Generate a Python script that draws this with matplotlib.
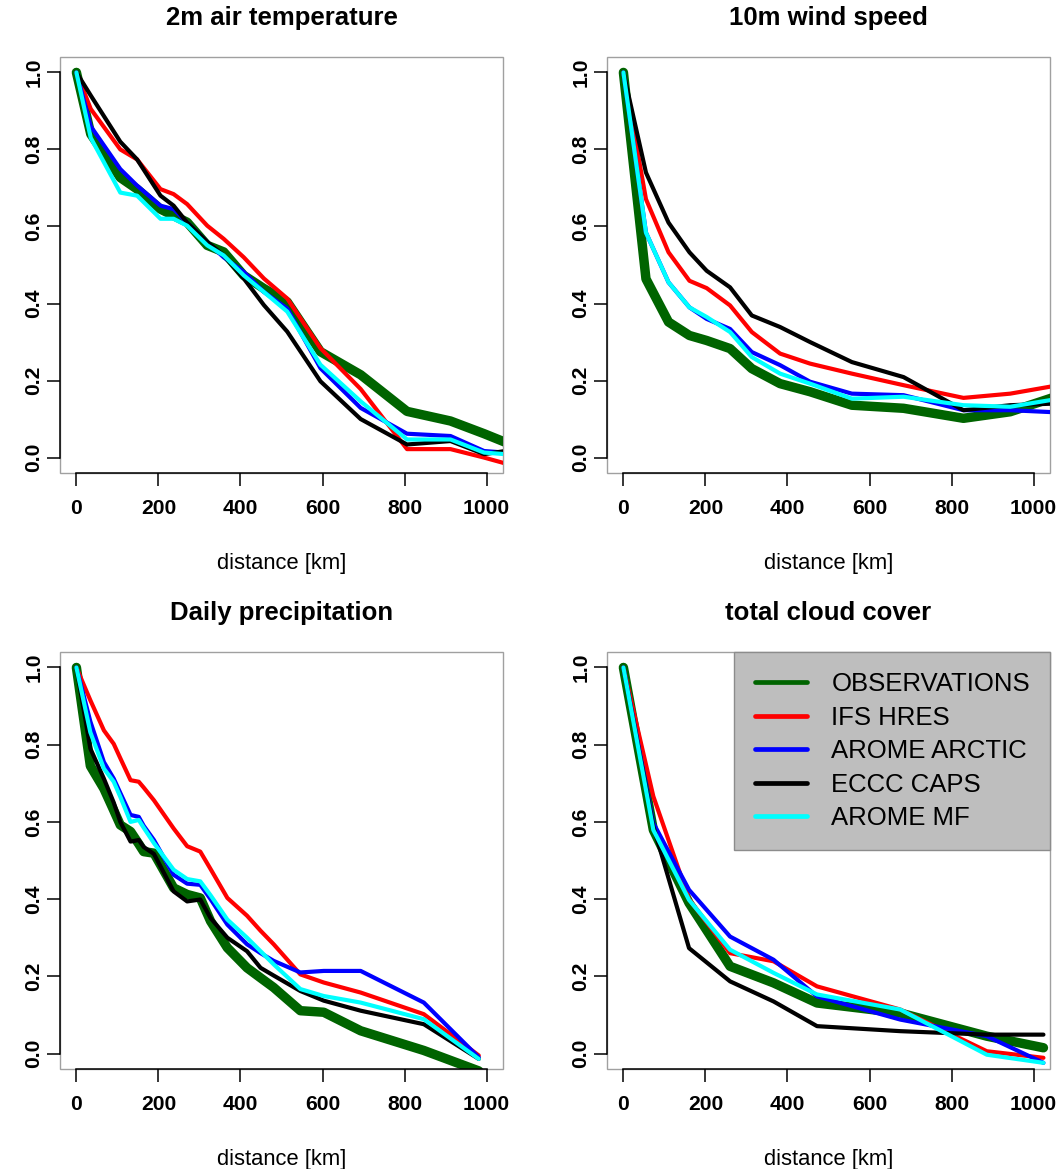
import matplotlib
matplotlib.use("Agg")
import matplotlib.pyplot as plt
from matplotlib.patches import Rectangle

plt.rcParams['font.family'] = ['Liberation Sans', 'DejaVu Sans']

# ---------------- data ----------------
models = ["OBSERVATIONS", "IFS HRES", "AROME ARCTIC", "ECCC CAPS", "AROME MF"]
colors = ["#006400", "#ff0000", "#0000ff", "#000000", "#00ffff"]

titles = ["2m air temperature", "10m wind speed", "Daily precipitation", "total cloud cover"]

# 2m air temperature
t2m_dist = [0, 35, 107, 148, 205, 237, 270, 319, 359, 408, 457, 514, 595, 693, 806, 912, 994, 1045]
t2m_obs  = [1.0, 0.84, 0.727, 0.697, 0.645, 0.628, 0.611, 0.551, 0.534, 0.473, 0.439, 0.404, 0.275, 0.215, 0.12, 0.095, 0.062, 0.04]
t2m_ifs  = [1.0, 0.905, 0.80, 0.774, 0.697, 0.684, 0.658, 0.602, 0.568, 0.52, 0.465, 0.413, 0.284, 0.178, 0.022, 0.022, 0.0, -0.015]
t2m_aa   = [1.0, 0.86, 0.749, 0.706, 0.654, 0.645, 0.61, 0.559, 0.52, 0.482, 0.43, 0.387, 0.232, 0.129, 0.062, 0.056, 0.017, 0.013]
t2m_eccc = [1.0, 0.94, 0.82, 0.774, 0.68, 0.654, 0.61, 0.56, 0.525, 0.465, 0.396, 0.327, 0.198, 0.10, 0.034, 0.043, 0.009, 0.017]
t2m_amf  = [1.0, 0.83, 0.688, 0.68, 0.62, 0.62, 0.602, 0.551, 0.525, 0.473, 0.43, 0.379, 0.241, 0.146, 0.047, 0.047, 0.013, 0.009]

# 10m wind speed
ws_dist = [0, 55, 110, 161, 203, 260, 313, 382, 455, 557, 683, 829, 943, 1045]
ws_obs  = [1.0, 0.464, 0.352, 0.317, 0.304, 0.283, 0.231, 0.192, 0.171, 0.136, 0.128, 0.102, 0.119, 0.155]
ws_ifs  = [1.0, 0.671, 0.533, 0.459, 0.44, 0.395, 0.326, 0.27, 0.244, 0.218, 0.188, 0.155, 0.166, 0.185]
ws_aa   = [1.0, 0.584, 0.455, 0.39, 0.36, 0.334, 0.274, 0.24, 0.197, 0.166, 0.162, 0.123, 0.123, 0.118]
ws_eccc = [1.0, 0.74, 0.61, 0.533, 0.485, 0.442, 0.369, 0.339, 0.30, 0.248, 0.209, 0.123, 0.136, 0.14]
ws_amf  = [1.0, 0.584, 0.455, 0.39, 0.365, 0.326, 0.261, 0.218, 0.192, 0.153, 0.158, 0.136, 0.132, 0.15]

# Daily precipitation
pr_dist = [0, 34, 67, 91, 107, 132, 152, 164, 189, 237, 270, 302, 327, 368, 416, 449, 481, 546, 603, 693, 847, 981]
pr_obs  = [1.0, 0.745, 0.686, 0.63, 0.592, 0.575, 0.543, 0.523, 0.519, 0.429, 0.412, 0.403, 0.343, 0.274, 0.222, 0.196, 0.171, 0.111, 0.107, 0.059, 0.008, -0.045]
pr_ifs  = [1.0, 0.915, 0.837, 0.802, 0.765, 0.708, 0.704, 0.689, 0.656, 0.583, 0.537, 0.523, 0.478, 0.403, 0.357, 0.318, 0.283, 0.205, 0.184, 0.158, 0.102, -0.005]
pr_aa   = [1.0, 0.86, 0.755, 0.712, 0.675, 0.618, 0.613, 0.59, 0.553, 0.463, 0.44, 0.437, 0.40, 0.334, 0.283, 0.26, 0.24, 0.21, 0.214, 0.214, 0.132, -0.01]
pr_eccc = [1.0, 0.79, 0.712, 0.65, 0.60, 0.549, 0.553, 0.535, 0.517, 0.42, 0.394, 0.399, 0.351, 0.30, 0.265, 0.222, 0.202, 0.162, 0.137, 0.111, 0.076, -0.014]
pr_amf  = [1.0, 0.832, 0.738, 0.704, 0.665, 0.60, 0.605, 0.585, 0.545, 0.476, 0.452, 0.446, 0.41, 0.347, 0.30, 0.265, 0.231, 0.167, 0.149, 0.132, 0.089, -0.014]

# total cloud cover
tcc_dist = [0, 73, 160, 260, 366, 472, 675, 886, 1024]
tcc_obs  = [1.0, 0.579, 0.39, 0.226, 0.183, 0.131, 0.105, 0.045, 0.015]
tcc_ifs  = [1.0, 0.666, 0.40, 0.26, 0.239, 0.174, 0.114, 0.006, -0.011]
tcc_aa   = [1.0, 0.597, 0.424, 0.303, 0.243, 0.148, 0.088, 0.045, -0.024]
tcc_eccc = [1.0, 0.588, 0.273, 0.187, 0.135, 0.071, 0.058, 0.049, 0.049]
tcc_amf  = [1.0, 0.579, 0.398, 0.269, 0.209, 0.153, 0.114, -0.003, -0.024]

xticks = [0, 200, 400, 600, 800, 1000]
yticks = [0.0, 0.2, 0.4, 0.6, 0.8, 1.0]
ytick_labels = ["0.0", "0.2", "0.4", "0.6", "0.8", "1.0"]

panels = [
    (t2m_dist, [t2m_obs, t2m_ifs, t2m_aa, t2m_eccc, t2m_amf]),
    (ws_dist, [ws_obs, ws_ifs, ws_aa, ws_eccc, ws_amf]),
    (pr_dist, [pr_obs, pr_ifs, pr_aa, pr_eccc, pr_amf]),
    (tcc_dist, [tcc_obs, tcc_ifs, tcc_aa, tcc_eccc, tcc_amf]),
]

# ---------------- figure ----------------
W, H = 1062, 1169
fig = plt.figure(figsize=(W / 100, H / 100), dpi=100)

# panel boxes in pixels: (left, top, right, bottom)
boxes = [(60, 57, 503, 473), (607, 57, 1050, 473),
         (60, 652, 503, 1069), (607, 652, 1050, 1069)]

lw_obs = 6.8
lw_mod = 3.0

axes = []
for i, (box, (dist, series)) in enumerate(zip(boxes, panels)):
    l, t, r, b = box
    ax = fig.add_axes([l / W, 1 - b / H, (r - l) / W, (b - t) / H])
    axes.append(ax)
    for k, (name, col, vals) in enumerate(zip(models, colors, series)):
        ax.plot(dist, vals, color=col, lw=lw_obs if k == 0 else lw_mod,
                solid_capstyle='round', solid_joinstyle='round', label=name,
                zorder=2 + k * 0.01)
    ax.set_xlim(-40, 1040)
    ax.set_ylim(-0.04, 1.04)

    # gray box + black axis lines (R style)
    for s in ("top", "right"):
        ax.spines[s].set_visible(False)
    ax.spines["bottom"].set_bounds(0, 1000)
    ax.spines["left"].set_bounds(0, 1)
    for s in ("bottom", "left"):
        ax.spines[s].set_color("black")
        ax.spines[s].set_linewidth(1.1)
    ax.add_patch(Rectangle((0, 0), 1, 1, transform=ax.transAxes, fill=False,
                           ec="#a0a0a0", lw=1.0, zorder=1, clip_on=False))

    ax.set_xticks(xticks)
    ax.set_xticklabels([str(v) for v in xticks], fontsize=15.2, fontweight="bold")
    ax.set_yticks(yticks)
    ax.set_yticklabels(ytick_labels, fontsize=15.2, fontweight="bold",
                       rotation=90, va="center")
    ax.tick_params(axis="both", direction="out", length=9.4, width=1.1, color="black")
    ax.tick_params(axis="x", pad=9)
    ax.tick_params(axis="y", pad=2.5)

    hpx = b - t
    ax.set_xlabel("distance [km]", fontsize=15.8)
    ax.xaxis.set_label_coords(0.5, -90 / hpx)
    ax.xaxis.label.set_va("center")
    ax.text(0.5, 1 + 39 / hpx, titles[i], transform=ax.transAxes,
            ha="center", va="center", fontsize=18.5, fontweight="bold")

leg = axes[3].legend(loc="upper right", borderaxespad=0, frameon=True, fancybox=False,
                     facecolor="#bebebe", edgecolor="#8c8c8c", framealpha=1,
                     fontsize=18.5, handlelength=2.06, handletextpad=0.93,
                     borderpad=0.78, labelspacing=0.37)
leg.get_frame().set_linewidth(1.0)
for h in leg.get_lines():
    h.set_linewidth(3.4)

fig.savefig("out.png", dpi=100)
